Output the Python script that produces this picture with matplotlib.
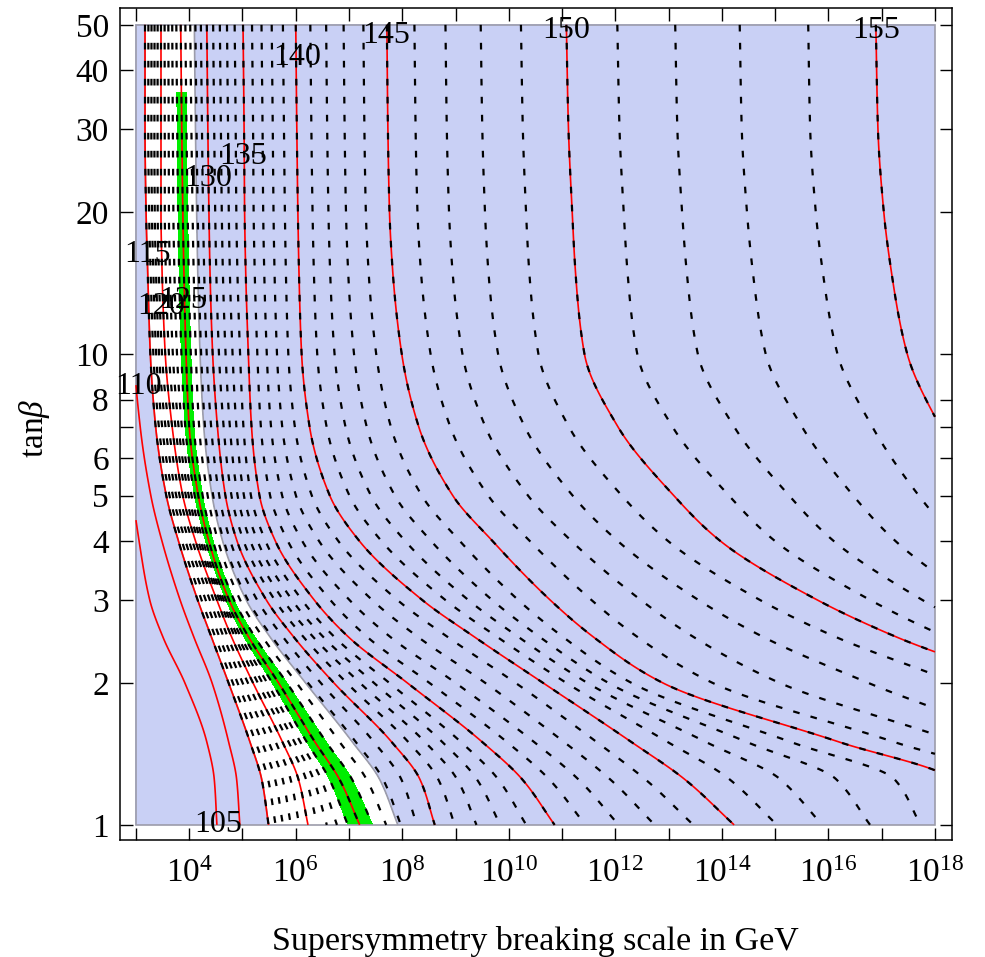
import numpy as np
import matplotlib.pyplot as plt

plt.rcParams['font.family'] = ['Liberation Serif', 'DejaVu Serif']
plt.rcParams['mathtext.fontset'] = 'custom'
plt.rcParams['mathtext.rm'] = 'Liberation Serif'
plt.rcParams['mathtext.it'] = 'Liberation Serif:italic'

# plotted region
ms_range = [1e3, 1e18]
tb_range = [1, 50]

tanb = [1, 1.25, 1.5, 2, 2.5, 3, 4, 5, 7, 10, 15, 20, 30, 50]

# log10(M_S / GeV) of each Higgs mass contour at those tan(beta)
ms_100 = [4.05, 4.00, 3.85, 3.45, 3.05, 2.80, 2.60, 2.50, 2.38, 2.28, 2.20, 2.15, 2.10, 2.05]
ms_105 = [4.52, 4.47, 4.33, 3.92, 3.51, 3.26, 3.06, 2.94, 2.81, 2.70, 2.61, 2.55, 2.49, 2.44]
ms_110 = [4.95, 4.89, 4.74, 4.43, 4.09, 3.83, 3.49, 3.28, 3.08, 2.96, 2.91, 2.87, 2.83, 2.79]
ms_115 = [5.49, 5.36, 5.14, 4.74, 4.42, 4.16, 3.80, 3.57, 3.37, 3.27, 3.22, 3.19, 3.17, 3.17]
ms_120 = [6.23, 6.05, 5.75, 5.20, 4.80, 4.52, 4.12, 3.88, 3.68, 3.55, 3.49, 3.47, 3.47, 3.47]
ms_125 = [7.20, 6.82, 6.36, 5.68, 5.12, 4.75, 4.37, 4.17, 4.00, 3.94, 3.90, 3.88, 3.86, 3.84]
ms_130 = [8.61, 8.33, 7.80, 6.72, 5.97, 5.45, 4.90, 4.68, 4.53, 4.44, 4.39, 4.37, 4.35, 4.33]
ms_135 = [10.86, 10.25, 9.50, 8.10, 7.00, 6.35, 5.62, 5.32, 5.17, 5.11, 5.06, 5.04, 5.03, 5.01]
ms_140 = [14.23, 13.30, 12.30, 10.65, 9.37, 8.38, 7.20, 6.64, 6.26, 6.11, 6.06, 6.04, 6.02, 6.00]
ms_145 = [18.73, 18.30, 16.20, 12.90, 11.60, 10.78, 9.70, 8.95, 8.31, 7.99, 7.82, 7.76, 7.73, 7.71]
ms_150 = [24.5, 23.5, 22.0, 19.6, 17.3, 15.8, 13.98, 13.1, 12.05, 11.42, 11.25, 11.19, 11.12, 11.08]
ms_155 = [31.0, 29.5, 26.5, 23.5, 21.7, 20.8, 19.6, 18.9, 18.1, 17.48, 17.18, 17.04, 16.93, 16.89]
ms_160 = [40.0, 36.0, 33.0, 29.5, 27.5, 26.5, 25.3, 24.8, 24.3, 24.0, 23.7, 23.6, 23.5, 23.4]

mh_levels = [100, 105, 110, 115, 120, 125, 130, 135, 140, 145, 150, 155, 160]
ms_rows = [ms_100, ms_105, ms_110, ms_115, ms_120, ms_125, ms_130,
           ms_135, ms_140, ms_145, ms_150, ms_155, ms_160]

red_levels = [105, 110, 115, 120, 125, 130, 135, 140, 145, 150, 155]
dash_levels = list(range(115, 160))
white_band = [115, 127.8]
green_band = [124, 126]
green_top = 36

label_text = ['105', '110', '115', '120', '125', '130', '135', '140', '145', '150', '155']
label_ms = [4.54, 3.04, 3.21, 3.47, 3.88, 4.35, 5.01, 6.02, 7.69, 11.08, 16.89]
label_tb = [0.966, 8.23, 15.69, 12.17, 12.53, 22.75, 25.33, 41.1, 45.8, 46.9, 46.9]

ytick_vals = [1, 2, 3, 4, 5, 6, 7, 8, 10, 20, 30, 40, 50]
ytick_text = ['1', '2', '3', '4', '5', '6', '', '8', '10', '20', '30', '40', '50']
xtick_exp = list(range(3, 19))


def pchip(x, y, xn):
    # monotone cubic hermite, keeps the read curves smooth without overshoot
    x = np.asarray(x, float)
    y = np.asarray(y, float)
    h = np.diff(x)
    d = np.diff(y) / h
    m = np.zeros_like(y)
    m[0], m[-1] = d[0], d[-1]
    for k in range(1, len(x) - 1):
        if d[k - 1] * d[k] > 0:
            w1 = 2 * h[k] + h[k - 1]
            w2 = h[k] + 2 * h[k - 1]
            m[k] = (w1 + w2) / (w1 / d[k - 1] + w2 / d[k])
    i = np.clip(np.searchsorted(x, xn) - 1, 0, len(x) - 2)
    t = (xn - x[i]) / h[i]
    return ((2 * t**3 - 3 * t**2 + 1) * y[i] + (t**3 - 2 * t**2 + t) * h[i] * m[i]
            + (-2 * t**3 + 3 * t**2) * y[i + 1] + (t**3 - t**2) * h[i] * m[i + 1])


# higgs mass field built from the contour positions
u = np.linspace(np.log10(ms_range[0]), np.log10(ms_range[1]), 1400)
v = np.linspace(np.log10(tb_range[0]), np.log10(tb_range[1]), 700)
lt = np.log10(tanb)
pos = np.array([pchip(lt, r, v) for r in ms_rows])
Z = np.array([pchip(pos[:, j], mh_levels, u) for j in range(len(v))])
X, Y = np.meshgrid(10 ** u, 10 ** v)

blue = '#C9D0F5'
edge = '#9C9CAA'

fig = plt.figure(figsize=(9.85, 9.57), dpi=100)
ax = fig.add_axes([0.1218, 0.1223, 0.8447, 0.8694])
ax.set_xscale('log')
ax.set_yscale('log')

ax.contourf(X, Y, Z, levels=[0, white_band[0]], colors=[blue])
ax.contourf(X, Y, Z, levels=[white_band[1], 999], colors=[blue])
Zg = np.ma.masked_where(Y > green_top, Z)
ax.contourf(X, Y, Zg, levels=green_band, colors=['#00EE00'])
ax.contour(X, Y, Z, levels=white_band, colors=edge, linewidths=1.2)
ax.add_patch(plt.Rectangle((ms_range[0], tb_range[0]), ms_range[1] - ms_range[0],
                           tb_range[1] - tb_range[0], fill=False, ec=edge, lw=1.2))

ax.contour(X, Y, Z, levels=red_levels, colors='red', linewidths=1.2)
ax.contour(X, Y, Z, levels=dash_levels, colors='black', linewidths=1.6,
           linestyles=[(0, (3.0, 5.1))])

for t, m, b in zip(label_text, label_ms, label_tb):
    ax.text(10 ** m, b, t, ha='center', va='baseline', fontsize=23)

ax.set_xlim(10 ** 2.70, 10 ** 18.32)
ax.set_ylim(0.929, 54.3)
ax.set_xticks([10.0 ** k for k in xtick_exp])
ax.set_xticklabels(['' if k % 2 else f'$10^{{{k}}}$' for k in xtick_exp])
ax.set_yticks(ytick_vals)
ax.set_yticklabels(ytick_text)
ax.minorticks_off()
ax.tick_params(which='both', direction='in', length=9, width=1,
               top=True, right=True, labelsize=24)
ax.tick_params(axis='x', pad=13)
ax.tick_params(axis='y', pad=8)
for s in ax.spines.values():
    s.set_linewidth(1.1)

fig.text(0.544, 1 - 950 / 957, 'Supersymmetry breaking scale in GeV',
         ha='center', va='baseline', fontsize=24.5)
fig.text(35 / 985, 1 - 428 / 957, r'tan$\beta$', rotation=90,
         ha='center', va='center', fontsize=24)

fig.savefig('out.png', dpi=100)
